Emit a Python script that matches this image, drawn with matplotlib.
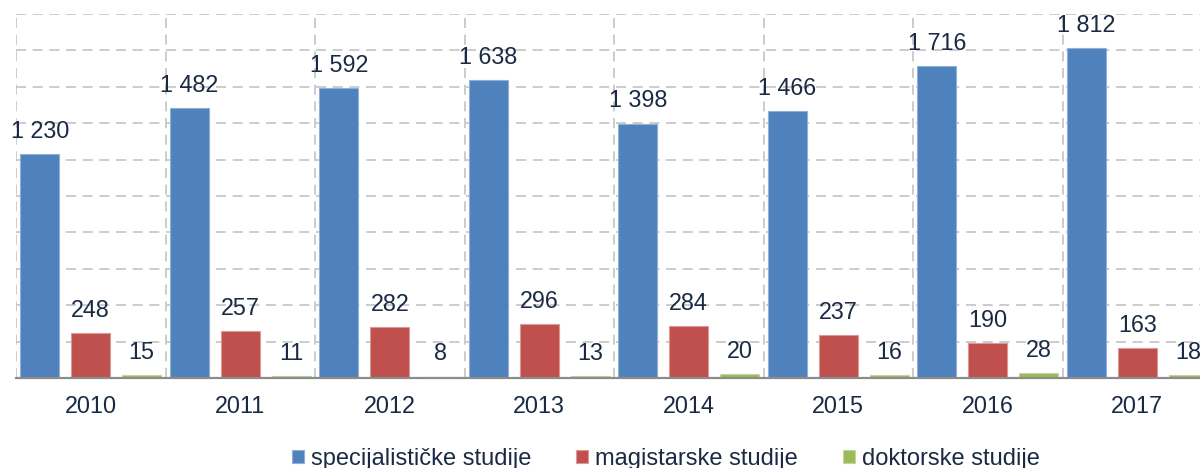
import matplotlib
matplotlib.use("Agg")
import matplotlib.pyplot as plt
import numpy as np

years = ["2010", "2011", "2012", "2013", "2014", "2015", "2016", "2017"]
specijalisticke = [1230, 1482, 1592, 1638, 1398, 1466, 1716, 1812]
magistarske = [248, 257, 282, 296, 284, 237, 190, 163]
doktorske = [15, 11, 8, 13, 20, 16, 28, 18]
series_names = ["specijalističke studije", "magistarske studije", "doktorske studije"]
colors = ["#4F81BD", "#C0504D", "#9BBB59"]
edge_colors = ["#8FB0D8", "#DA9896", "#C3D69B"]
text_color = "#1B2A44"

plt.rcParams['font.family'] = ['Liberation Sans', 'DejaVu Sans']

W, H = 1200, 468
fig = plt.figure(figsize=(W / 100, H / 100), dpi=100)
left = 16 / W
right = (16 + 8 * 149.5) / W
bottom = (H - 378) / H
top = (H - 14) / H
ax = fig.add_axes([left, bottom, right - left, top - bottom])

x = np.arange(len(years))
offset = 0.341
width = 0.261
all_series = [specijalisticke, magistarske, doktorske]
containers = []
for i, (vals, c, ec) in enumerate(zip(all_series, colors, edge_colors)):
    bc = ax.bar(x + (i - 1) * offset, vals, width, color=c, edgecolor=ec,
                linewidth=0.8, label=series_names[i], zorder=3)
    containers.append(bc)
    ax.bar_label(bc, labels=[f"{v:,}".replace(",", " ") for v in vals],
                 padding=8, fontsize=16.8, color=text_color, zorder=4)

ax.set_xlim(-0.5, len(years) - 0.5)
ax.set_ylim(0, 2000)
ax.set_yticks(np.arange(0, 2001, 200))
ax.set_yticklabels([])
ax.tick_params(axis='y', length=0)
ax.set_xticks(x)
ax.set_xticklabels(years, fontsize=16.8, color=text_color)
ax.tick_params(axis='x', length=0, pad=12.5)

grid_kw = dict(color="#C4C4C4", linewidth=1.2, linestyle=(0, (6, 4)), zorder=1)
ax.yaxis.grid(True, **grid_kw)
for b in np.arange(-0.5, len(years) + 0.5, 1.0):
    ax.axvline(b, **grid_kw)

for s in ["top", "right", "left"]:
    ax.spines[s].set_visible(False)
ax.spines["bottom"].set_color("#8C8C8C")
ax.spines["bottom"].set_linewidth(1.6)
ax.spines["bottom"].set_zorder(5)

leg = fig.legend(handles=containers, labels=series_names, loc="center",
                 bbox_to_anchor=(666 / W, 0.02), ncol=3, frameon=False,
                 fontsize=17, handlelength=0.5, handleheight=0.5,
                 handletextpad=0.3, columnspacing=1.9, borderpad=0)
for t in leg.get_texts():
    t.set_color(text_color)

fig.savefig("out.png", dpi=100)
